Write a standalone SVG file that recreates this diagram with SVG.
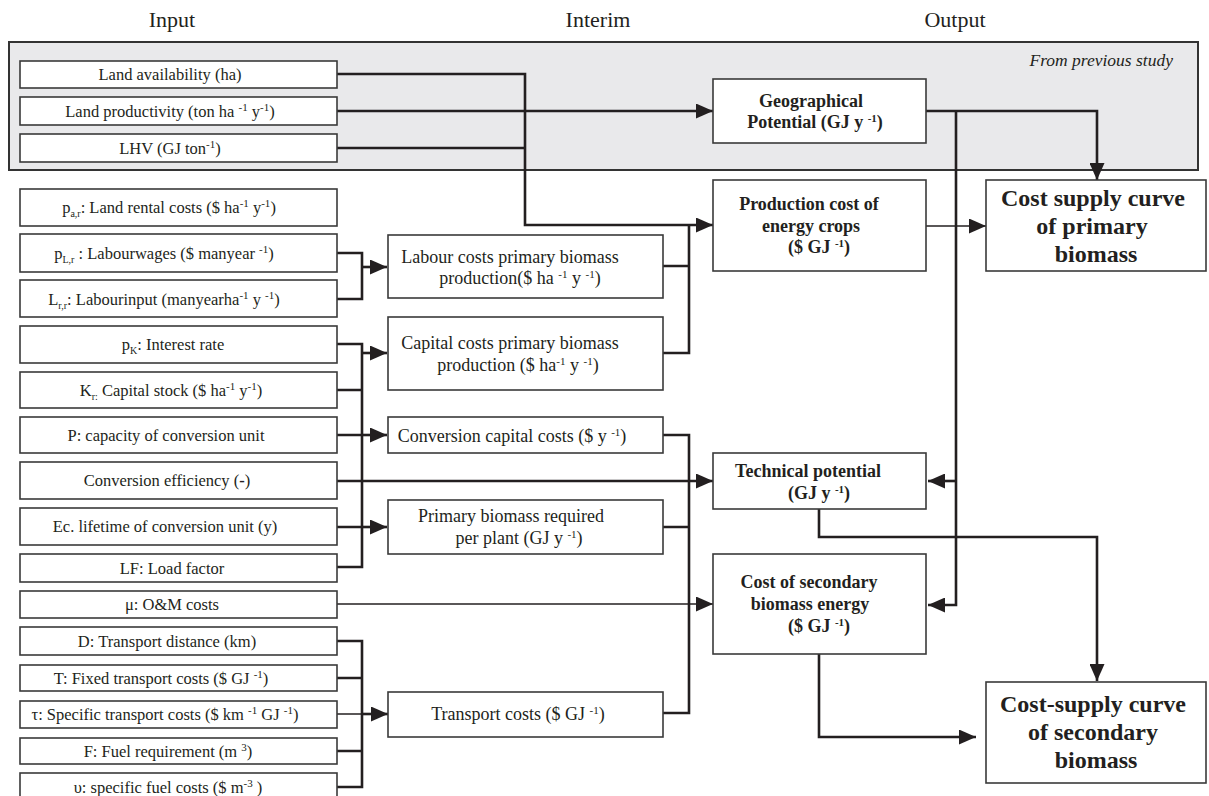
<svg xmlns="http://www.w3.org/2000/svg" width="1209" height="796" viewBox="0 0 1209 796">
<style>
text{font-family:"Liberation Serif","Times New Roman",serif;fill:#231f20;text-anchor:middle}
.hd{font-size:22px}
.it{font-size:17.5px;font-style:italic;text-anchor:end}
.in{font-size:16.5px}
.im{font-size:18px}
.out{font-size:18px;font-weight:bold}
.fin{font-size:24px;font-weight:bold}
.sup{font-size:11px;baseline-shift:6px}
.sub{font-size:10px;baseline-shift:-4px}
.box{fill:#fff;stroke:#3a3a3a;stroke-width:1.6}
.c{fill:none;stroke:#231f20;stroke-width:2.6}
.t{fill:none;stroke:#231f20;stroke-width:1.5}
.a{marker-end:url(#ah)}
</style>
<defs>
<marker id="ah" markerUnits="userSpaceOnUse" markerWidth="17" markerHeight="15" refX="17" refY="7.5" orient="auto">
<path d="M0,0 L17,7.5 L0,15 z" fill="#231f20"/>
</marker>
</defs>
<rect width="1209" height="796" fill="#fff"/>
<g id="headers">
<text class="hd" x="172" y="27">Input</text>
<text class="hd" x="598" y="27">Interim</text>
<text class="hd" x="955" y="27">Output</text>
</g>
<g id="previous-study">
<rect x="9" y="42" width="1189" height="128" fill="#e9e9eb" stroke="#333" stroke-width="2"/>
<text class="it" x="1173" y="66">From previous study</text>
</g>
<g id="connectors">
<path class="c a" d="M337,74 H525 V225 H713"/>
<path class="c a" d="M337,111 H713"/>
<path class="c" d="M337,148 H525"/>
<path class="c" d="M337,253 H362 V299 H337"/>
<path class="c a" d="M362,267 H387"/>
<path class="c" d="M337,344 H362 V567 H337 M337,390 H362 M337,435 H362 M337,527 H362"/>
<path class="c a" d="M362,353 H387"/>
<path class="c a" d="M362,435 H387"/>
<path class="c a" d="M362,527 H387"/>
<path class="c a" d="M337,481 H713"/>
<path class="t a" d="M337,604 H713"/>
<path class="c" d="M337,641 H362 V787 H337 M337,678 H362 M337,751 H362"/>
<path class="t" d="M337,714 H362"/>
<path class="c a" d="M362,714 H388"/>
<path class="c" d="M663,266 H689 M663,353 H689 V225"/>
<path class="c" d="M663,435 H689 V713 H663 M663,527 H689"/>
<path class="c a" d="M926,111 H1097 V180"/>
<path class="c a" d="M956,111 V605 H928"/>
<path class="c a" d="M956,481 H928"/>
<path class="t a" d="M926,226 H986"/>
<path class="c a" d="M819,509 V537 H1097 V681"/>
<path class="c a" d="M819,654 V737 H976"/>
</g>
<g id="in-land-availability"><rect class="box" x="20" y="61" width="317" height="27"/><text class="in" x="170" y="80">Land availability (ha)</text></g>
<g id="in-land-productivity"><rect class="box" x="20" y="97" width="317" height="28"/><text class="in" x="170" y="117">Land productivity (ton ha <tspan class="sup">-1</tspan>  y<tspan class="sup">-1</tspan>)</text></g>
<g id="in-lhv"><rect class="box" x="20" y="134" width="317" height="28"/><text class="in" x="170" y="154">LHV (GJ ton<tspan class="sup">-1</tspan>)</text></g>
<g id="in-land-rental"><rect class="box" x="20" y="189" width="317" height="37"/><text class="in" x="169" y="213">p<tspan class="sub">a,r</tspan>: Land rental costs ($ ha<tspan class="sup">-1</tspan>  y<tspan class="sup">-1</tspan>)</text></g>
<g id="in-labourwages"><rect class="box" x="20" y="234" width="317" height="38"/><text class="in" x="164" y="259">p<tspan class="sub">L,r</tspan> : Labourwages ($ manyear <tspan class="sup">-1</tspan>)</text></g>
<g id="in-labourinput"><rect class="box" x="20" y="280" width="317" height="37"/><text class="in" x="164" y="305">L<tspan class="sub">r,r</tspan>: Labourinput (manyearha<tspan class="sup">-1</tspan>  y <tspan class="sup">-1</tspan>)</text></g>
<g id="in-interest"><rect class="box" x="20" y="326" width="317" height="37"/><text class="in" x="173" y="350">p<tspan class="sub">K</tspan>: Interest rate</text></g>
<g id="in-capital-stock"><rect class="box" x="20" y="372" width="317" height="36"/><text class="in" x="171" y="396">K<tspan class="sub">r:</tspan> Capital stock ($ ha<tspan class="sup">-1</tspan>  y<tspan class="sup">-1</tspan>)</text></g>
<g id="in-capacity"><rect class="box" x="20" y="417" width="317" height="36"/><text class="in" x="166" y="441">P: capacity of conversion unit</text></g>
<g id="in-efficiency"><rect class="box" x="20" y="462" width="317" height="37"/><text class="in" x="167" y="486">Conversion efficiency (<tspan font-weight="bold">-</tspan>)</text></g>
<g id="in-lifetime"><rect class="box" x="20" y="508" width="317" height="37"/><text class="in" x="165" y="532">Ec. lifetime of conversion unit (y)</text></g>
<g id="in-load-factor"><rect class="box" x="20" y="554" width="317" height="28"/><text class="in" x="172" y="574">LF: Load factor</text></g>
<g id="in-om"><rect class="box" x="20" y="591" width="317" height="27"/><text class="in" x="172" y="610">μ: O&amp;M costs</text></g>
<g id="in-distance"><rect class="box" x="20" y="627" width="317" height="28"/><text class="in" x="167" y="647">D: Transport distance (km)</text></g>
<g id="in-fixed-transport"><rect class="box" x="20" y="665" width="317" height="26"/><text class="in" x="161" y="684">T: Fixed transport costs ($ GJ <tspan class="sup">-1</tspan>)</text></g>
<g id="in-specific-transport"><rect class="box" x="20" y="701" width="317" height="27"/><text class="in" x="165" y="720">τ: Specific transport costs ($ km <tspan class="sup">-1</tspan> GJ <tspan class="sup">-1</tspan>)</text></g>
<g id="in-fuel"><rect class="box" x="20" y="738" width="317" height="26"/><text class="in" x="168" y="757">F: Fuel requirement (m <tspan class="sup">3</tspan>)</text></g>
<g id="in-fuel-costs"><rect class="box" x="20" y="773" width="317" height="28"/><text class="in" x="168" y="793">υ: specific fuel costs ($ m<tspan class="sup">-3</tspan> )</text></g>
<g id="im-labour"><rect class="box" x="388" y="235" width="275" height="63"/><text class="im" x="510" y="263">Labour costs primary biomass</text><text class="im" x="520" y="284">production($ ha <tspan class="sup">-1</tspan> y <tspan class="sup">-1</tspan>)</text></g>
<g id="im-capital"><rect class="box" x="388" y="317" width="275" height="73"/><text class="im" x="510" y="349">Capital costs primary biomass</text><text class="im" x="518" y="371">production ($ ha<tspan class="sup">-1</tspan> y <tspan class="sup">-1</tspan>)</text></g>
<g id="im-conversion-capital"><rect class="box" x="388" y="417" width="275" height="36"/><text class="im" x="512" y="442">Conversion capital costs ($ y <tspan class="sup">-1</tspan>)</text></g>
<g id="im-primary-required"><rect class="box" x="388" y="500" width="275" height="54"/><text class="im" x="511" y="522">Primary biomass required</text><text class="im" x="519" y="544">per plant (GJ y <tspan class="sup">-1</tspan>)</text></g>
<g id="im-transport"><rect class="box" x="388" y="692" width="275" height="45"/><text class="im" x="518" y="720">Transport costs ($ GJ  <tspan class="sup">-1</tspan>)</text></g>
<g id="out-geographical"><rect class="box" x="713" y="79" width="213" height="64"/><text class="out" x="811" y="107">Geographical</text><text class="out" x="815" y="128">Potential (GJ y <tspan class="sup">-1</tspan>)</text></g>
<g id="out-production-cost"><rect class="box" x="713" y="180" width="213" height="91"/><text class="out" x="809" y="210">Production cost of</text><text class="out" x="811" y="232">energy crops</text><text class="out" x="819" y="253">($ GJ <tspan class="sup">-1</tspan>)</text></g>
<g id="out-technical"><rect class="box" x="713" y="453" width="213" height="56"/><text class="out" x="808" y="477">Technical potential</text><text class="out" x="819" y="499">(GJ y <tspan class="sup">-1</tspan>)</text></g>
<g id="out-secondary-cost"><rect class="box" x="713" y="554" width="213" height="100"/><text class="out" x="809" y="588">Cost of secondary</text><text class="out" x="810" y="610">biomass energy</text><text class="out" x="819" y="632">($ GJ <tspan class="sup">-1</tspan>)</text></g>
<g id="final-primary"><rect class="box" x="986" y="180" width="220" height="91"/><text class="fin" x="1093" y="206">Cost supply curve</text><text class="fin" x="1092" y="234">of  primary</text><text class="fin" x="1096" y="262">biomass</text></g>
<g id="final-secondary"><rect class="box" x="986" y="682" width="220" height="101"/><text class="fin" x="1093" y="712">Cost-supply curve</text><text class="fin" x="1093" y="740">of secondary</text><text class="fin" x="1096" y="768">biomass</text></g>
</svg>
